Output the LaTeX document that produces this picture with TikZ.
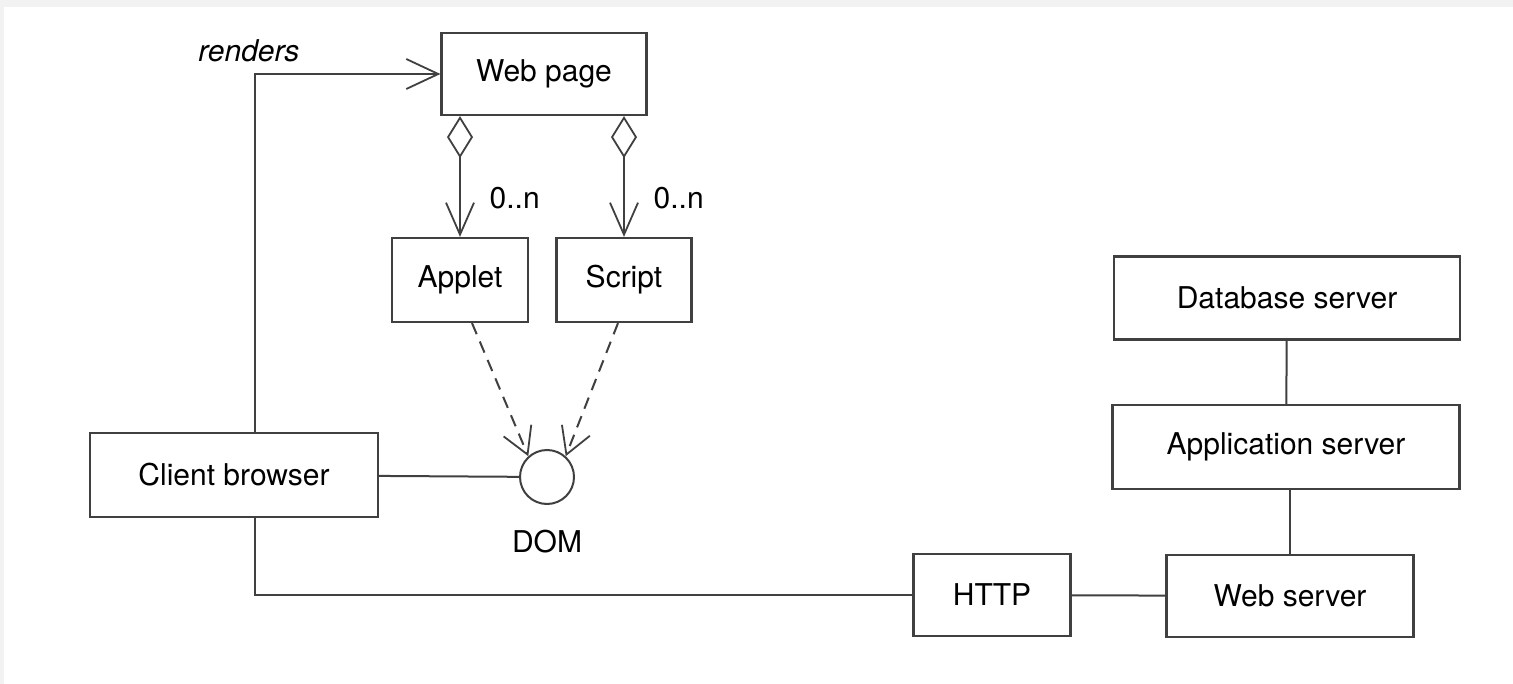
\documentclass[tikz,border=0pt]{standalone}
\usepackage{fontspec}
\setmainfont{TeX Gyre Heros}
\usetikzlibrary{positioning,arrows.meta}

\begin{document}
\begin{tikzpicture}[
  x=0.5pt, y=-0.5pt,
  every node/.style={font=\fontsize{15}{18}\selectfont},
  box/.style={draw=black!75, line width=1.1pt, fill=white, align=center, inner sep=0pt},
  conn/.style={draw=black!75, line width=1pt},
  arrow/.style={conn, -{Straight Barb[length=16pt, width=15pt, line width=0.9pt]}},
  agg/.style={conn, {Diamond[open, length=21pt, width=13pt, line width=0.9pt]}-{Straight Barb[length=16pt, width=14pt, line width=0.9pt]}},
  dep/.style={conn, dash pattern=on 6pt off 4pt, -{Straight Barb[length=13pt, width=15pt, line width=0.9pt]}}
]
% background
\fill[white] (0,0) rectangle (1513,684);
\fill[black!5] (0,0) rectangle (1513,7);
\fill[black!5] (0,7) rectangle (4,684);
\useasboundingbox (0,0) rectangle (1513,684);

% browser side
\node[box, minimum width=102.5pt, minimum height=41pt] (webpage) at (544,74) {Web page};
\node[box, minimum width=68pt, minimum height=42pt] (applet) at (460,280) {Applet};
\node[box, minimum width=67.5pt, minimum height=42pt] (script) at (624,280) {Script};
\node[box, minimum width=144pt, minimum height=42pt] (client) at (234,475) {Client browser};
\node[conn, circle, fill=white, minimum size=27pt, inner sep=0pt,
  label={[label distance=9pt]below:DOM}] (dom) at (547,477) {};

% server side
\node[box, minimum width=173pt, minimum height=41.5pt] (db) at (1287,298) {Database server};
\node[box, minimum width=173.5pt, minimum height=42pt] (app) at (1286,447) {Application server};
\node[box, minimum width=123.5pt, minimum height=41pt] (web) at (1290,596) {Web server};
\node[box, minimum width=78.5pt, minimum height=41pt] (http) at (992,595) {HTTP};

% connectors
\draw[arrow] ([xshift=83pt]client.north west) |- node[pos=0.5, above, xshift=-3pt, yshift=2pt] {\itshape renders} (webpage.west);
\draw[agg] (webpage.south -| applet) -- (applet.north)
  node[pos=0.68, right=11pt] {0..n};
\draw[agg] (webpage.south -| script) -- (script.north)
  node[pos=0.68, right=11pt] {0..n};
\draw[dep] ([xshift=6pt]applet.south) -- (dom.132);
\draw[dep] ([xshift=-3pt]script.south) -- (dom.48);
\draw[conn] (client) -- (dom);
\draw[conn] ([xshift=83pt]client.south west) |- (http.west);
\draw[conn] (http) -- (web);
\draw[conn] (db) -- (app);
\draw[conn] (app.south -| web.north) -- (web.north);
\end{tikzpicture}
\end{document}
